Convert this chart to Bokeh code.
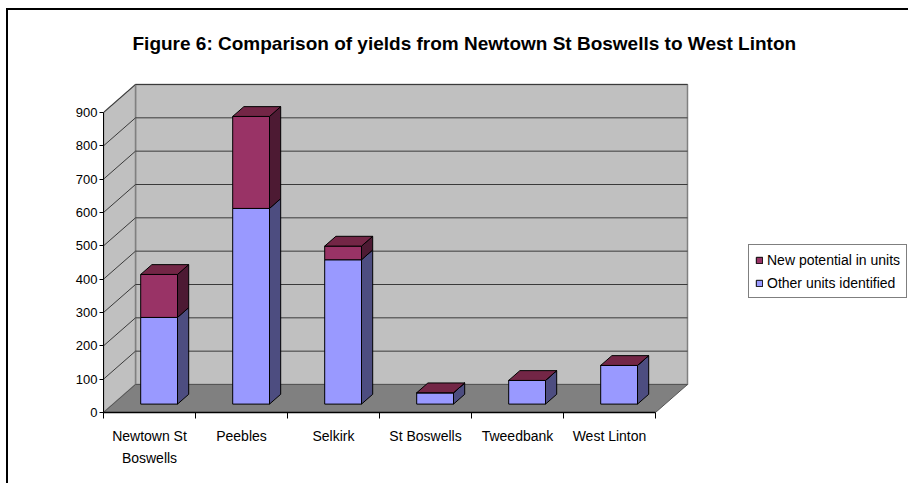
from bokeh.plotting import figure
from bokeh.models import FixedTicker, Legend, LegendItem, LinearAxis, InlineStyleSheet
from bokeh.embed import file_html
from bokeh.resources import INLINE

# ---------------- data ----------------
categories = ["Newtown St\nBoswells", "Peebles", "Selkirk", "St Boswells", "Tweedbank", "West Linton"]
other_units = [260, 587, 433, 34, 71, 116]
new_potential = [129, 276, 41, 0, 0, 0]
series_names = ["Other units identified", "New potential in units"]
y_ticks = [0, 100, 200, 300, 400, 500, 600, 700, 800, 900]
title_text = "Figure 6: Comparison of yields from Newtown St Boswells to West Linton"

# ---------------- style / 3D geometry ----------------
FONT = "Liberation Sans"
Y_MAX = 900
DEPTH_X = 32 / 92.0   # depth offset in x units
DEPTH_Y = 84.0        # depth offset in value units
BAR_W = 0.40
BAR_D0, BAR_D1 = 0.30, 0.65
front_colors = ["#9999FF", "#993366"]
side_colors = ["#4D4D80", "#4D1A33"]
top_colors = ["#7373BF", "#732646"]

def proj(x, y, d):
    return x + d * DEPTH_X, y + d * DEPTH_Y

def poly(pts):
    xs, ys = [], []
    for (x, y, d) in pts:
        px, py = proj(x, y, d)
        xs.append(px)
        ys.append(py)
    return xs, ys

n = len(categories)
W, H = 908, 483
p = figure(width=W, height=H, x_range=(0, (W - 103) / 92.0), y_range=(0, 1056),
           x_axis_type=None, y_axis_type=None, output_backend="svg", toolbar_location=None,
           min_border_left=103, min_border_right=0, min_border_top=60, min_border_bottom=H - 412)
p.outline_line_color = None
p.background_fill_color = "white"
p.border_fill_color = "white"

# chart-area border (left and top edges)
p.stylesheets = [InlineStyleSheet(css=(
    ":host { position: relative; }"
    ":host::after { content: ''; position: absolute; left: 6px; top: 8px; right: 0; bottom: 0;"
    " border-left: 2px solid #000; border-top: 2px solid #000; pointer-events: none; z-index: 100; }"
))]

# walls and floor
back = poly([(0, 0, 1), (n, 0, 1), (n, Y_MAX, 1), (0, Y_MAX, 1)])
side = poly([(0, 0, 0), (0, 0, 1), (0, Y_MAX, 1), (0, Y_MAX, 0)])
floor = poly([(0, 0, 0), (n, 0, 0), (n, 0, 1), (0, 0, 1)])
p.patches(xs=[back[0], side[0]], ys=[back[1], side[1]], fill_color="#C0C0C0",
          line_color="#808080", line_width=1.5)

# gridlines
gx, gy = [], []
for t in y_ticks[1:]:
    a = poly([(0, t, 0), (0, t, 1), (n, t, 1)])
    gx.append(a[0]); gy.append(a[1])
p.multi_line(xs=gx, ys=gy, line_color="#3a3a3a", line_width=1)

p.patch(x=floor[0], y=floor[1], fill_color="#808080", line_color="#555555", line_width=1)

# bars
front_r = []
bottoms = [0] * n
series_vals = [other_units, new_potential]
for s, vals in enumerate(series_vals):
    fx, fy, sx, sy = [], [], [], []
    for i in range(n):
        xl = i + 0.5 - BAR_W / 2
        xr = i + 0.5 + BAR_W / 2
        y0 = bottoms[i]
        y1 = y0 + vals[i]
        f = poly([(xl, y0, BAR_D0), (xr, y0, BAR_D0), (xr, y1, BAR_D0), (xl, y1, BAR_D0)])
        sd = poly([(xr, y0, BAR_D0), (xr, y0, BAR_D1), (xr, y1, BAR_D1), (xr, y1, BAR_D0)])
        fx.append(f[0]); fy.append(f[1]); sx.append(sd[0]); sy.append(sd[1])
        bottoms[i] = y1
    p.patches(xs=sx, ys=sy, fill_color=side_colors[s], line_color="black", line_width=1)
    r = p.patches(xs=fx, ys=fy, fill_color=front_colors[s], line_color="black", line_width=1)
    front_r.append(r)

tx, ty = [], []
for i in range(n):
    xl = i + 0.5 - BAR_W / 2
    xr = i + 0.5 + BAR_W / 2
    yt = bottoms[i]
    t = poly([(xl, yt, BAR_D0), (xr, yt, BAR_D0), (xr, yt, BAR_D1), (xl, yt, BAR_D1)])
    tx.append(t[0]); ty.append(t[1])
p.patches(xs=tx, ys=ty, fill_color=top_colors[-1], line_color="black", line_width=1)

# axes
yaxis = LinearAxis(ticker=FixedTicker(ticks=y_ticks), bounds=(0, Y_MAX))
yaxis.major_tick_out = 4
yaxis.major_tick_in = 0
yaxis.minor_tick_line_color = None
yaxis.axis_line_color = "black"
yaxis.major_tick_line_color = "black"
yaxis.major_label_text_font = FONT
yaxis.major_label_text_font_size = "13px"
yaxis.major_label_text_color = "black"
yaxis.major_label_standoff = 2
p.add_layout(yaxis, "left")

centres = [i + 0.5 for i in range(n)]
xaxis = LinearAxis(ticker=FixedTicker(ticks=centres, minor_ticks=list(range(n + 1))), bounds=(0, n))
xaxis.major_label_overrides = {c: lab for c, lab in zip(centres, categories)}
xaxis.major_tick_line_color = None
xaxis.minor_tick_line_color = "black"
xaxis.minor_tick_out = 6
xaxis.minor_tick_in = 0
xaxis.axis_line_color = "black"
xaxis.axis_line_width = 1.5
xaxis.major_label_text_font = FONT
xaxis.major_label_text_font_size = "14px"
xaxis.major_label_text_color = "black"
xaxis.major_label_text_line_height = 1.43
xaxis.major_label_standoff = 9
p.add_layout(xaxis, "below")

# title
p.title.text = title_text
p.title.text_font = FONT
p.title.text_font_size = "19px"
p.title.text_font_style = "bold"
p.title.text_color = "black"
p.title.align = "left"
p.title.offset = 29
p.title.standoff = 13

# legend
legend = Legend(items=[LegendItem(label=series_names[1], renderers=[front_r[1]]),
                       LegendItem(label=series_names[0], renderers=[front_r[0]])],
                location=(645, 114))
legend.border_line_color = "black"
legend.border_line_width = 1
legend.background_fill_color = "white"
legend.background_fill_alpha = 1
legend.label_text_font = FONT
legend.label_text_font_size = "14px"
legend.label_text_color = "black"
legend.glyph_width = 8
legend.glyph_height = 8
legend.label_height = 17
legend.label_standoff = 4
legend.spacing = 6
legend.padding = 6
legend.margin = 0
p.add_layout(legend)

open("out.html", "w").write(file_html(p, INLINE))
